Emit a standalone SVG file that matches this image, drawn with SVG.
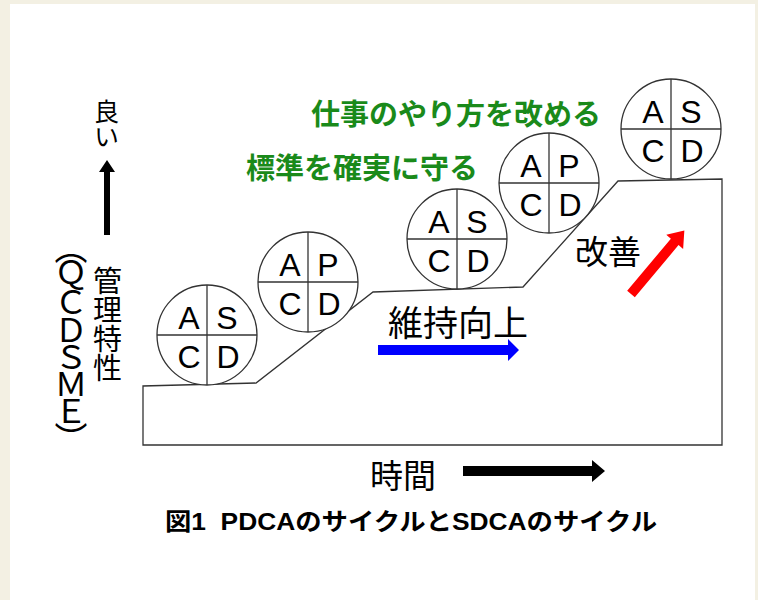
<svg xmlns="http://www.w3.org/2000/svg" width="758" height="600" viewBox="0 0 758 600">
<style>
.cyc circle{fill:#fff;stroke:#333;stroke-width:1.3}
.cyc line{stroke:#333;stroke-width:1.3}
.cyc text{font-family:"Liberation Sans",Arial,sans-serif;font-size:32px;fill:#000;text-anchor:middle}
.jp{font-family:"Noto Sans CJK JP","Noto Sans CJK SC",sans-serif;fill:#000}
.vt{writing-mode:vertical-rl}
.green{font-family:"Noto Sans CJK JP","Noto Sans CJK SC",sans-serif;fill:#1a8a1a;font-weight:bold;font-size:29px}
</style>
<rect x="0" y="0" width="758" height="600" fill="#f3f0e3"/>
<rect x="10" y="4" width="745" height="596" fill="#fff"/>
<g id="connectors">
<path d="M143,445 L143,386 L256,383 L373,292 L523,287 L618,181 L722,179 L722,445 Z" fill="none" stroke="#333" stroke-width="1.3"/>
<polygon id="arrow-up" points="107,160 115,172 110,172 110,235 104,235 104,172 99,172" fill="#000"/>
<polygon id="arrow-blue" points="378,345 508,345 508,339 519,350 508,361 508,355 378,355" fill="#0000ff"/>
<polygon id="arrow-red" transform="translate(631,294) rotate(-50)" points="0,-5 68,-5 68,-11 83,0 68,11 68,5 0,5" fill="#ff0000"/>
<polygon id="arrow-time" points="463,466 592,466 592,460 605,471 592,482 592,476 463,476" fill="#000"/>
</g>
<g id="cycle1" class="cyc" transform="translate(207,335)">
<circle r="50"/><line x1="0" y1="-50" x2="0" y2="50"/><line x1="-50" y1="0" x2="50" y2="0"/>
<text x="-18" y="-6">A</text><text x="20" y="-6">S</text><text x="-18" y="33">C</text><text x="21" y="33">D</text>
</g>
<g id="cycle2" class="cyc" transform="translate(308,282)">
<circle r="50"/><line x1="0" y1="-50" x2="0" y2="50"/><line x1="-50" y1="0" x2="50" y2="0"/>
<text x="-18" y="-6">A</text><text x="20" y="-6">P</text><text x="-18" y="33">C</text><text x="21" y="33">D</text>
</g>
<g id="cycle3" class="cyc" transform="translate(457,239)">
<circle r="50"/><line x1="0" y1="-50" x2="0" y2="50"/><line x1="-50" y1="0" x2="50" y2="0"/>
<text x="-18" y="-6">A</text><text x="20" y="-6">S</text><text x="-18" y="33">C</text><text x="21" y="33">D</text>
</g>
<g id="cycle4" class="cyc" transform="translate(549,183)">
<circle r="50"/><line x1="0" y1="-50" x2="0" y2="50"/><line x1="-50" y1="0" x2="50" y2="0"/>
<text x="-18" y="-6">A</text><text x="20" y="-6">P</text><text x="-18" y="33">C</text><text x="21" y="33">D</text>
</g>
<g id="cycle5" class="cyc" transform="translate(671,129)">
<circle r="50"/><line x1="0" y1="-50" x2="0" y2="50"/><line x1="-50" y1="0" x2="50" y2="0"/>
<text x="-18" y="-6">A</text><text x="20" y="-6">S</text><text x="-18" y="33">C</text><text x="21" y="33">D</text>
</g>
<g id="label-kaizen-method">
<text class="green" x="311" y="125">仕事のやり方を改める</text>
</g>
<g id="label-standard">
<text class="green" x="246" y="179">標準を確実に守る</text>
</g>
<g id="label-good">
<text class="jp vt" font-size="25" x="106.5" y="99">良い</text>
</g>
<g id="label-kanri">
<text class="jp vt" font-size="29" x="107.5" y="266">管理特性</text>
</g>
<g id="label-qcdsme">
<text class="jp vt" font-size="33" letter-spacing="-5.7" x="71" y="231">（ＱＣＤＳＭＥ）</text>
</g>
<g id="label-iji">
<text class="jp" font-size="35" x="388" y="335.5">維持向上</text>
</g>
<g id="label-kaizen">
<text class="jp" font-size="33" x="575" y="264">改善</text>
</g>
<g id="label-time">
<text class="jp" font-size="33" x="370" y="488">時間</text>
</g>
<g id="caption">
<text x="165" y="530" font-size="24" font-weight="bold" fill="#000" font-family="'Liberation Sans','Noto Sans CJK JP',sans-serif" textLength="492" lengthAdjust="spacingAndGlyphs" xml:space="preserve">図1  PDCAのサイクルとSDCAのサイクル</text>
</g>
</svg>
